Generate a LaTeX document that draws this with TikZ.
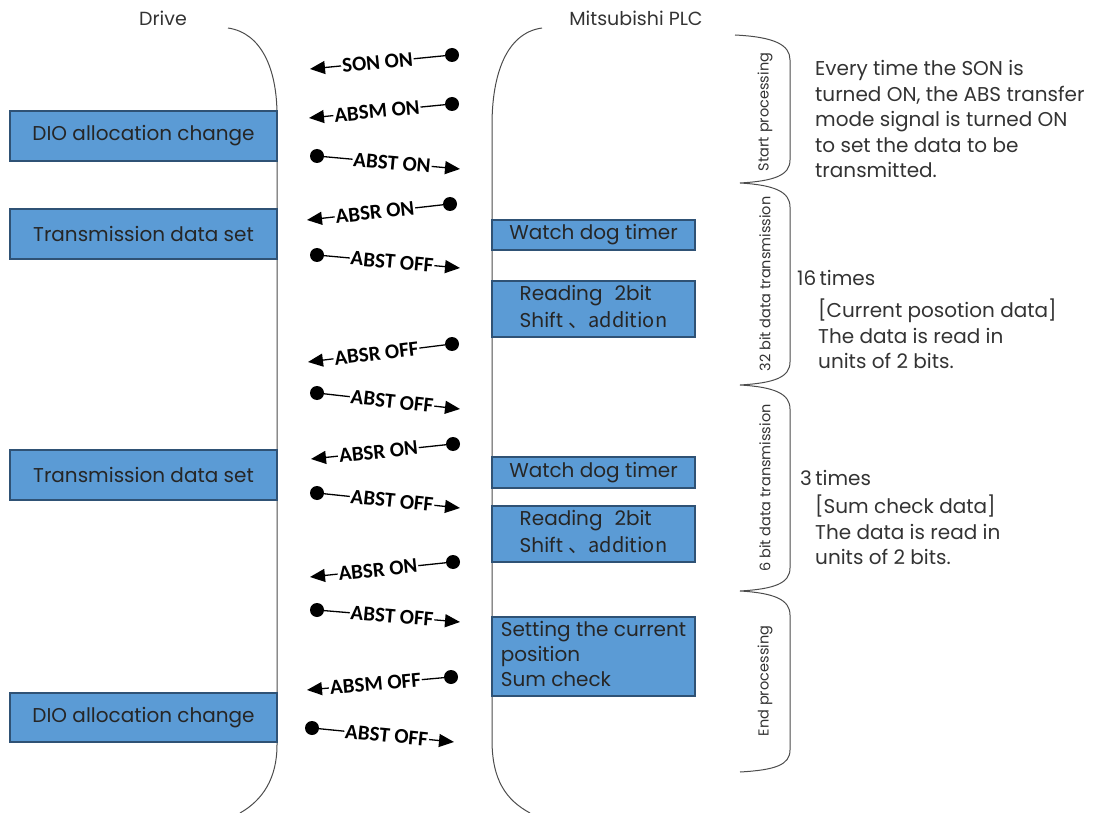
\documentclass[tikz,border=0pt]{standalone}
\usepackage{fontspec}
\setmainfont{Poppins}
\newfontfamily\sigfont{Carlito}
\newfontfamily\cjk{Noto Sans CJK JP}
\usepackage{tikz}
\usetikzlibrary{positioning,arrows.meta,calc}

\definecolor{boxblue}{HTML}{5B9BD5}
\definecolor{boxedge}{HTML}{2F5275}
\definecolor{txtgray}{HTML}{333333}

\begin{document}
\begin{tikzpicture}[
        x=1pt, y=-1pt,
        dbox/.style={
            rectangle,
            draw=boxedge,
            fill=boxblue,
            line width=1.2pt,
            inner sep=0pt,
            align=center,
            text=black!85,
            font=\fontsize{20}{25}\selectfont
        },
        sig/.style={line width=1.3pt,-{Triangle[length=15pt,width=13pt]}},
        sigdot/.style={circle,fill=black,inner sep=0pt,minimum size=14pt},
        siglabel/.style={sloped,fill=white,inner sep=1pt,
            font=\sigfont\bfseries\fontsize{21}{23}\selectfont},
        lifeline/.style={line width=1pt,draw=black!70},
        phase/.style={line width=1pt,draw=black!70},
        phaselabel/.style={rotate=90,text=txtgray,
            font=\fontsize{14.5}{16}\selectfont},
        note/.style={anchor=west,align=left,text=txtgray,inner sep=0pt,
            font=\fontsize{20}{25.5}\selectfont}
    ]
    \useasboundingbox (0,0) rectangle (1093,813);

    % headers
    \node[text=txtgray,font=\fontsize{19}{22}\selectfont] (drive) at (163,18) {Drive};
    \node[text=txtgray,font=\fontsize{19}{22}\selectfont] (plc) at (636,18) {Mitsubishi PLC};

    % life lines
    \draw[lifeline] (228,28) .. controls (262,33) and (277,70) .. (277,115)
        -- (277,745) .. controls (277,778) and (263,800) .. (240,813);
    \draw[lifeline] (542,28) .. controls (506,33) and (492,75) .. (492,125)
        -- (492,740) .. controls (492,780) and (506,800) .. (530,813);

    % drive side
    \node[dbox, minimum width=267, minimum height=50] (dio1) at (143.5,136) {DIO allocation change};
    \node[dbox, minimum width=267, minimum height=50] (tx1) at (143.5,234) {Transmission data set};
    \node[dbox, minimum width=267, minimum height=50] (tx2) at (143.5,475) {Transmission data set};
    \node[dbox, minimum width=267, minimum height=49] (dio2) at (143.5,717.5) {DIO allocation change};

    % PLC side
    \node[dbox, minimum width=203, minimum height=30] (wd1) at (593.5,235) {Watch dog timer};
    \node[dbox, minimum width=203, minimum height=56] (rd1) at (593.5,309)
        {\begin{tabular}{@{}l@{}}Reading\hspace{0.6em}2bit\\[2pt]Shift \cjk{、}addition\end{tabular}};
    \node[dbox, minimum width=203, minimum height=31] (wd2) at (593.5,472.5) {Watch dog timer};
    \node[dbox, minimum width=203, minimum height=56] (rd2) at (593.5,534)
        {\begin{tabular}{@{}l@{}}Reading\hspace{0.6em}2bit\\[2pt]Shift \cjk{、}addition\end{tabular}};
    \node[dbox, minimum width=203, minimum height=79] (setpos) at (593.5,656.5)
        {\begin{tabular}{@{}l@{}}Setting the current\\position\\Sum check\end{tabular}};

    % signals
    \node[sigdot] (d1) at (452,55) {};
    \coordinate (t1) at (310,69);
    \draw[sig] (d1) -- node[siglabel]{SON ON} (t1);

    \node[sigdot] (d2) at (452,104) {};
    \coordinate (t2) at (309,118);
    \draw[sig] (d2) -- node[siglabel]{ABSM ON} (t2);

    \node[sigdot] (d3) at (317,156) {};
    \coordinate (t3) at (460,169);
    \draw[sig] (d3) -- node[siglabel]{ABST ON} (t3);

    \node[sigdot] (d4) at (450,204) {};
    \coordinate (t4) at (307,220);
    \draw[sig] (d4) -- node[siglabel]{ABSR ON} (t4);

    \node[sigdot] (d5) at (317,255) {};
    \coordinate (t5) at (460,268);
    \draw[sig] (d5) -- node[siglabel]{ABST OFF} (t5);

    \node[sigdot] (d6) at (452,344) {};
    \coordinate (t6) at (308,362);
    \draw[sig] (d6) -- node[siglabel]{ABSR OFF} (t6);

    \node[sigdot] (d7) at (317,393) {};
    \coordinate (t7) at (460,409);
    \draw[sig] (d7) -- node[siglabel]{ABST OFF} (t7);

    \node[sigdot] (d8) at (453,444) {};
    \coordinate (t8) at (311,459);
    \draw[sig] (d8) -- node[siglabel]{ABSR ON} (t8);

    \node[sigdot] (d9) at (317,493) {};
    \coordinate (t9) at (460,508);
    \draw[sig] (d9) -- node[siglabel]{ABST OFF} (t9);

    \node[sigdot] (d10) at (453,562) {};
    \coordinate (t10) at (310,577);
    \draw[sig] (d10) -- node[siglabel]{ABSR ON} (t10);

    \node[sigdot] (d11) at (317,610) {};
    \coordinate (t11) at (460,622);
    \draw[sig] (d11) -- node[siglabel]{ABST OFF} (t11);

    \node[sigdot] (d12) at (451,677) {};
    \coordinate (t12) at (307,690);
    \draw[sig] (d12) -- node[siglabel]{ABSM OFF} (t12);

    \node[sigdot] (d13) at (312,728) {};
    \coordinate (t13) at (454,742);
    \draw[sig] (d13) -- node[siglabel]{ABST OFF} (t13);

    % phases
    \draw[phase] (735,35) .. controls (775,37) and (790,45) .. (790,60)
        -- (790,160) .. controls (790,175) and (775,181) .. (740,183)
        .. controls (775,185) and (790,192) .. (790,207)
        -- (790,362) .. controls (790,377) and (775,383) .. (740,385)
        .. controls (775,387) and (790,394) .. (790,409)
        -- (790,568) .. controls (790,583) and (775,589) .. (740,591)
        .. controls (775,593) and (790,600) .. (790,615)
        -- (790,750) .. controls (790,765) and (775,770) .. (740,772);
    \node[phaselabel] (startp) at (765,112) {Start processing};
    \node[phaselabel] (bit32) at (765,284) {32 bit data transmission};
    \node[phaselabel] (bit6) at (765,488) {6 bit data transmission};
    \node[phaselabel] (endp) at (765,681) {End processing};

    % notes
    \node[note] (note1) at (815,119)
        {Every time the SON is\\turned ON, the ABS transfer\\mode signal is turned ON\\to set the data to be\\transmitted.};
    \node[note] (times16) at (797,278) {16\,times};
    \node[note] (note2) at (818,334)
        {[Current posotion data]\\The data is read in\\units of 2 bits.};
    \node[note] (times3) at (800,478) {3\,times};
    \node[note] (note3) at (815,530)
        {[Sum check data]\\The data is read in\\units of 2 bits.};

\end{tikzpicture}
\end{document}
